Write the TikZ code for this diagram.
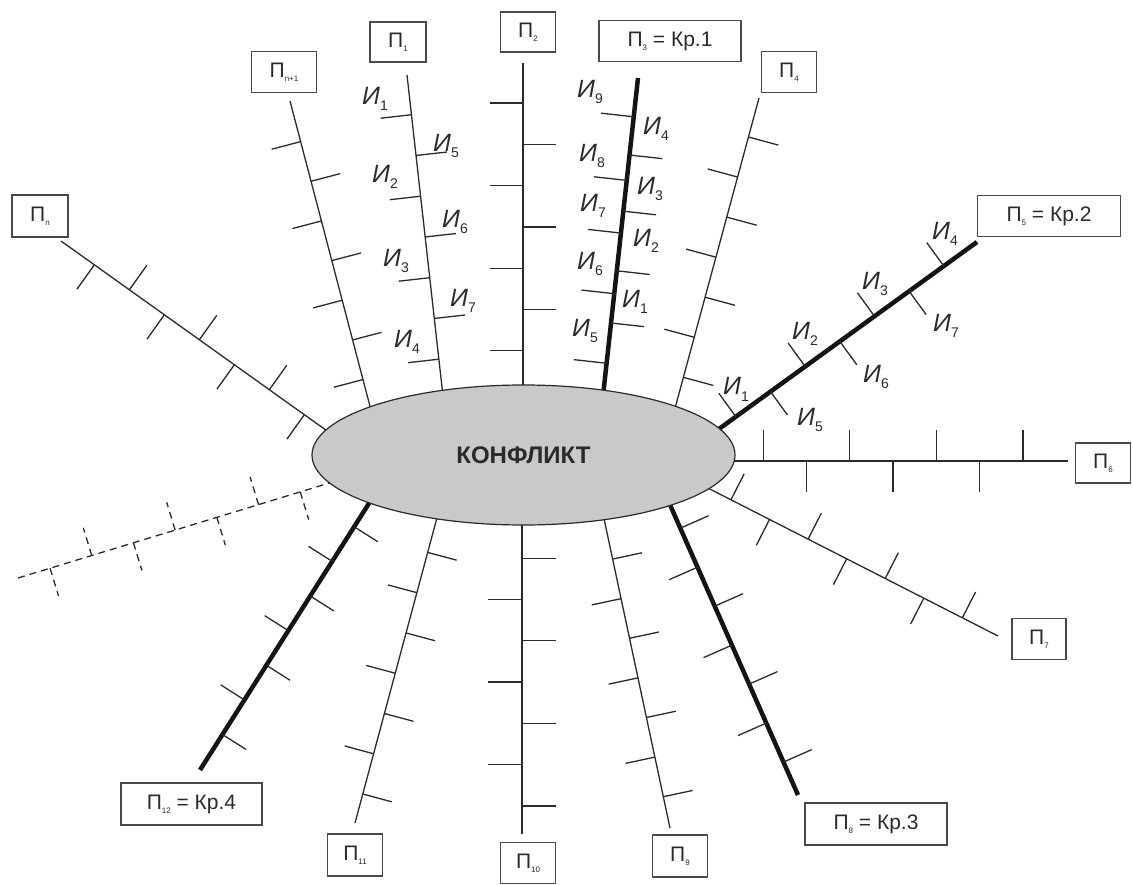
\documentclass[tikz,border=0pt]{standalone}
\usepackage{fontspec}
\setmainfont{Liberation Sans}
\usetikzlibrary{calc,shapes.geometric}
\definecolor{ink}{HTML}{2A2A2A}
\definecolor{ovalfill}{HTML}{C9C9C9}
\newcommand\lbl[1]{{\fontsize{25}{25}\selectfont\itshape И}\raisebox{-6pt}{\fontsize{14}{14}\selectfont #1}}
\newcommand\pidx[1]{П\raisebox{-4pt}{\fontsize{8}{8}\selectfont #1}}
\newcommand\tickset[7]{%
  \foreach \k in {1,...,#5}{%
    \pgfmathsetmacro\dd{#3+(\k-1)*#4}%
    \pgfmathsetmacro\aa{#6*(1-2*mod(\k-1,2))}%
    \coordinate (tk) at ($(#1)!\dd pt!(#2)$);
    \draw[tickline] (tk) -- ($(tk)!#7pt!\aa:(#2)$);
  }}
\begin{document}
\begin{tikzpicture}[x=1pt,y=-1pt,
  spoke/.style={draw=ink, line width=1.3pt},
  heavy/.style={draw=black!92, line width=4.5pt},
  tickline/.style={draw=ink, line width=1.3pt},
  pbox/.style={draw=ink!85, line width=1.2pt, minimum height=41pt, minimum width=55pt, inner sep=0pt, font=\fontsize{21}{21}\selectfont, text=ink},
  ilabel/.style={anchor=base west, inner sep=0pt, text=ink},
]
\useasboundingbox (0,0) rectangle (1133,885);

% spoke end points (outer o*, inner c*)
\coordinate (oA) at (61,241);   \coordinate (cA) at (330,433);
\coordinate (oB) at (290,101);  \coordinate (cB) at (372,414);
\coordinate (oC) at (407,75);   \coordinate (cC) at (443,396);
\coordinate (oD) at (523,63);   \coordinate (cD) at (523,392);
\coordinate (oE) at (638,78);   \coordinate (cE) at (603,396);
\coordinate (oF) at (759,98);   \coordinate (cF) at (674,412);
\coordinate (oG) at (977,242);  \coordinate (cG) at (712,434);
\coordinate (oH) at (1068,461); \coordinate (cH) at (726,461);
\coordinate (oI) at (998,636);  \coordinate (cI) at (700,484);
\coordinate (oJ) at (798,795);  \coordinate (cJ) at (667,498);
\coordinate (oK) at (670,828);  \coordinate (cK) at (603,514);
\coordinate (oL) at (522,834);  \coordinate (cL) at (522,518);
\coordinate (oM) at (355,823);  \coordinate (cM) at (438,514);
\coordinate (oN) at (200,770);  \coordinate (cN) at (373,497);
\coordinate (oP) at (18,578);   \coordinate (cP) at (336,481);

% thin spokes
\draw[spoke] (oA) -- (cA); \tickset{oA}{cA}{41}{43}{7}{-90}{30}
\draw[spoke] (oB) -- (cB); \tickset{oB}{cB}{42}{41}{7}{-90}{30}
\draw[spoke] (oC) -- (cC); \tickset{oC}{cC}{40}{41}{7}{-90}{31}
\draw[spoke] (oD) -- (cD); \tickset{oD}{cD}{40}{41.3}{7}{-90}{33}
\draw[spoke] (oF) -- (cF); \tickset{oF}{cF}{40.4}{41.5}{7}{90}{31}
\draw[spoke] (oH) -- (cH); \tickset{oH}{cH}{45}{43.3}{7}{-90}{31}
\draw[spoke] (oI) -- (cI); \tickset{oI}{cI}{40}{43.3}{7}{-90}{29}
\draw[spoke] (oK) -- (cK); \tickset{oK}{cK}{32}{40.5}{7}{-90}{30}
\draw[spoke] (oL) -- (cL); \tickset{oL}{cL}{28}{41.3}{7}{-90}{34}
\draw[spoke] (oM) -- (cM); \tickset{oM}{cM}{30}{41.7}{7}{-90}{30}
% dashed spoke
\begin{scope}[tickline/.append style={dash pattern=on 7pt off 5pt}]
\draw[spoke, dash pattern=on 7pt off 5pt] (oP) -- (cP); \tickset{oP}{cP}{33.5}{43.6}{7}{-90}{29}
\end{scope}
% heavy spokes
\draw[heavy] (oE) -- (cE);
\foreach \d/\a in {39/-90, 77.5/90, 103/-90, 134/90, 156/-90, 194/90, 217/-90, 246.5/90, 287/-90}{
  \coordinate (tk) at ($(oE)!\d pt!(cE)$);
  \draw[tickline] (tk) -- ($(tk)!33pt!\a:(cE)$);
}
\draw[heavy] (oG) -- (cG); \tickset{oG}{cG}{41}{42.8}{7}{-90}{29}
\draw[heavy] (oJ) -- (cJ); \tickset{oJ}{cJ}{36}{42.6}{7}{-90}{31}
\draw[heavy] (oN) -- (cN); \tickset{oN}{cN}{42}{41}{7}{-90}{28}

% central ellipse
\node[ellipse, draw=ink, line width=1.2pt, fill=ovalfill, minimum width=423pt, minimum height=140pt, inner sep=0pt, text=ink, font=\bfseries\fontsize{24}{24}\selectfont] (conf) at (523.5,455) {КОНФЛИКТ};

% boxes
\node[pbox, minimum width=56pt, minimum height=42pt] (pn) at (40,216) {\pidx{n}};
\node[pbox, minimum width=65pt] (pn1) at (284,72) {\pidx{n+1}};
\node[pbox, minimum width=56pt, minimum height=40pt] (p1) at (398,42) {\pidx{1}};
\node[pbox, minimum height=40pt] (p2) at (528,32) {\pidx{2}};
\node[pbox, minimum width=142pt] (p3) at (670,41) {\pidx{3} = Кр.1};
\node[pbox] (p4) at (789,72) {\pidx{4}};
\node[pbox, minimum width=143pt] (p5) at (1049,216) {\pidx{5} = Кр.2};
\node[pbox, minimum height=40pt] (p6) at (1103,463) {\pidx{6}};
\node[pbox, minimum width=54pt] (p7) at (1039,639) {\pidx{7}};
\node[pbox, minimum width=142pt, minimum height=42pt] (p8) at (876,824) {\pidx{8} = Кр.3};
\node[pbox, minimum height=42pt] (p9) at (680,856) {\pidx{9}};
\node[pbox] (p10) at (528,863) {\pidx{10}};
\node[pbox, minimum height=42pt] (p11) at (355,855) {\pidx{11}};
\node[pbox, minimum width=141pt, minimum height=42pt] (p12) at (191.5,804) {\pidx{12} = Кр.4};

% labels on П1
\node[ilabel] (a1) at (362,105) {\lbl{1}};
\node[ilabel] (a5) at (433,152) {\lbl{5}};
\node[ilabel] (a2) at (372,183) {\lbl{2}};
\node[ilabel] (a6) at (442,228) {\lbl{6}};
\node[ilabel] (a3) at (383,267) {\lbl{3}};
\node[ilabel] (a7) at (450,307) {\lbl{7}};
\node[ilabel] (a4) at (394,348) {\lbl{4}};
% labels on П3
\node[ilabel] (b9) at (577,98) {\lbl{9}};
\node[ilabel] (b8) at (579,162) {\lbl{8}};
\node[ilabel] (b7) at (580,212) {\lbl{7}};
\node[ilabel] (b6) at (577,270) {\lbl{6}};
\node[ilabel] (b5) at (572,337) {\lbl{5}};
\node[ilabel] (b4) at (643,135) {\lbl{4}};
\node[ilabel] (b3) at (637,195) {\lbl{3}};
\node[ilabel] (b2) at (633,247) {\lbl{2}};
\node[ilabel] (b1) at (622,308) {\lbl{1}};
% labels on П5
\node[ilabel] (c4) at (932,240) {\lbl{4}};
\node[ilabel] (c3) at (862,290) {\lbl{3}};
\node[ilabel] (c2) at (792,340) {\lbl{2}};
\node[ilabel] (c1) at (723,395) {\lbl{1}};
\node[ilabel] (c7) at (933,332) {\lbl{7}};
\node[ilabel] (c6) at (863,382) {\lbl{6}};
\node[ilabel] (c5) at (797,425) {\lbl{5}};
\end{tikzpicture}
\end{document}
